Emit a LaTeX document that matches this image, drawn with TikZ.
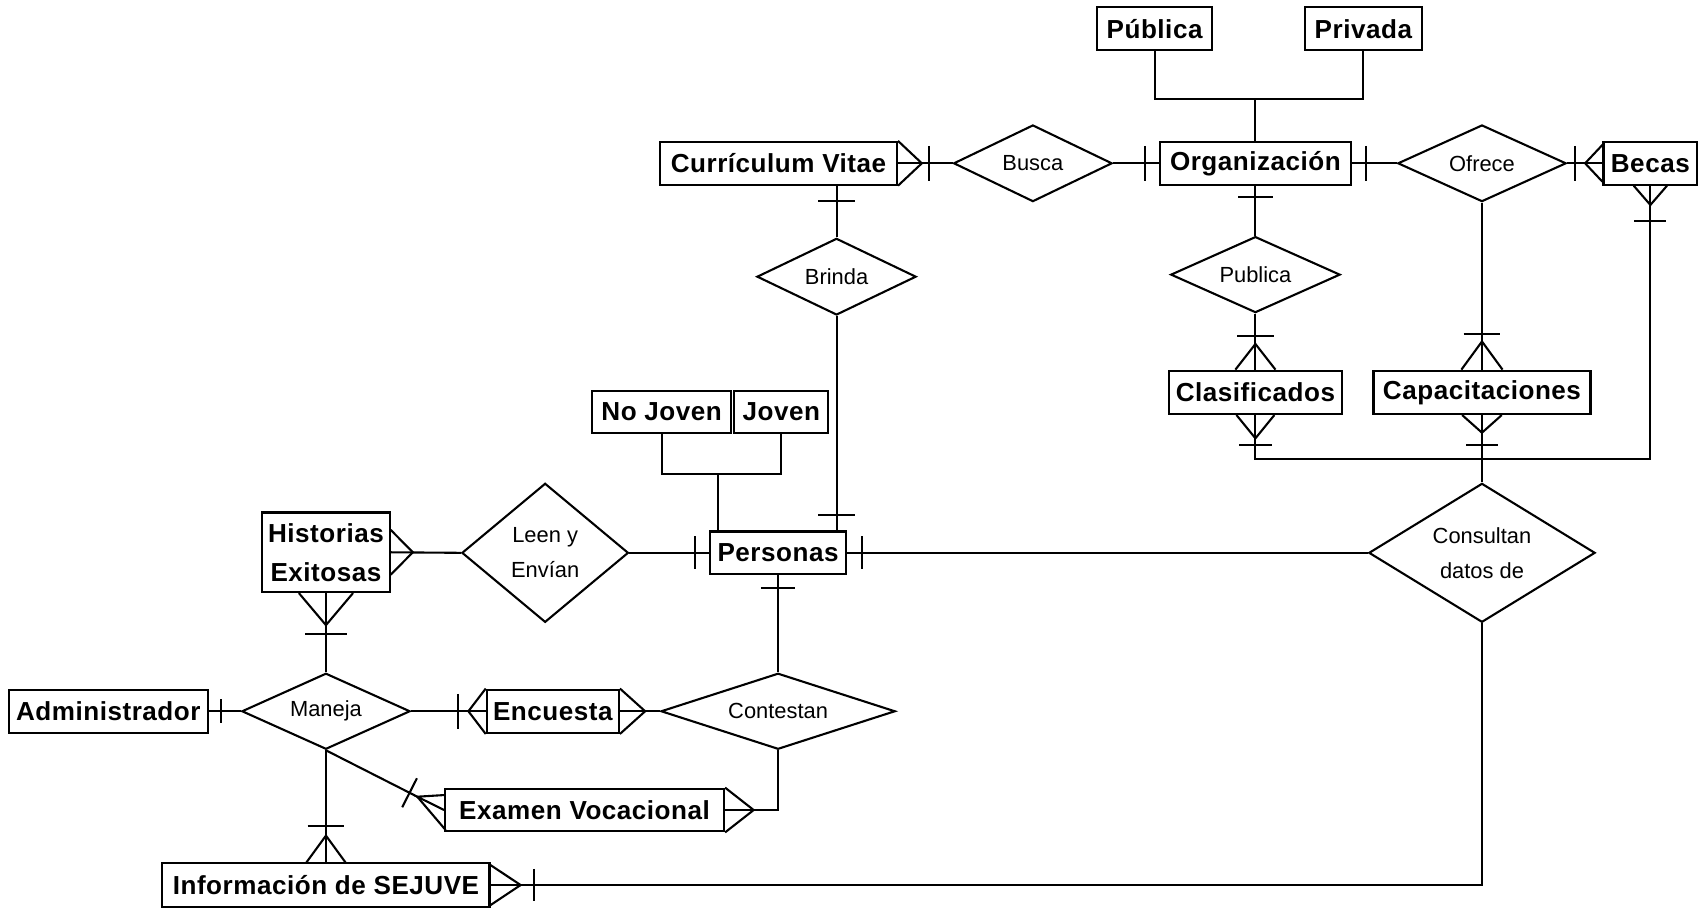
\documentclass[tikz,border=0pt]{standalone}
\usepackage{fontspec}
\setmainfont{Liberation Sans}
\newfontfamily\erfamily[LetterSpace=2]{Liberation Sans}
\usetikzlibrary{shapes.geometric,calc}
\newcommand\entitylabelfont{\erfamily\bfseries\fontsize{13.7}{20.4}\selectfont}
\newcommand\rellabelfont{\rmfamily\fontsize{11.5}{18.5}\selectfont}

\begin{document}
\begin{tikzpicture}[x=0.02cm,y=-0.02cm,line width=1.1pt,
  erent/.style 2 args={draw,rectangle,inner sep=0pt,minimum width=#1*0.02cm,
    minimum height=#2*0.02cm,font=\entitylabelfont,align=center},
  errel/.style 2 args={draw,diamond,inner sep=0pt,aspect=2,minimum width=#1*0.02cm,
    minimum height=#2*0.02cm,font=\rellabelfont,align=center}]

\fill[white] (0,0) rectangle (1568,838);
\useasboundingbox (0,0) rectangle (1568,838);

% ---------- entities and relationships ----------
\node[erent={106.4}{39.4}] (pub) at (1066.2,26.5) {Pública};
\node[erent={108}{39.4}] (priv) at (1259,26.5) {Privada};
\node[erent={218.8}{39.4}] (cv) at (718.9,150.8) {Currículum Vitae};
\node[errel={146.4}{70.8}] (busca) at (953.8,150.8) {Busca};
\node[erent={176.6}{39.4}] (org) at (1159.3,150.8) {Organización};
\node[errel={155.5}{70.8}] (ofrece) at (1368.5,150.8) {Ofrece};
\node[erent={86.6}{39.4}] (becas) at (1524,150.8) {Becas};
\node[errel={147}{70.8}] (brinda) at (772.5,255.5) {Brinda};
\node[errel={156.4}{70.2}] (publica) at (1159.3,253.6) {Publica};
\node[erent={160}{40}] (clas) at (1159.3,362.3) {Clasificados};
\node[erent={200.4}{40}] (capa) at (1368.5,362.3) {Capacitaciones};
\node[erent={128}{39.2}] (nojoven) at (611,380.4) {No Joven};
\node[erent={87}{39.2}] (joven) at (721.5,380.4) {Joven};
\node[erent={125.6}{39.4}] (personas) at (718.5,510.5) {Personas};
\node[erent={117.6}{73.4}] (hist) at (301,510) {Historias\\Exitosas};
\node[errel={153.8}{128.4},aspect=1.4] (leen) at (503.4,510.5) {Leen y\\Envían};
\node[errel={209}{128.3},aspect=1.4] (consultan) at (1368.5,510.5) {Consultan\\datos de};
\node[erent={184}{40}] (admin) at (100,656.8) {Administrador};
\node[errel={155.4}{70.2}] (maneja) at (301,656.8) {Maneja};
\node[erent={122}{40}] (enc) at (510.5,656.8) {Encuesta};
\node[errel={216.3}{70.2}] (contestan) at (718.5,656.8) {Contestan};
\node[erent={257.6}{39.4}] (exam) at (539.8,748) {Examen Vocacional};
\node[erent={302}{40}] (info) at (301,817.3) {Información de SEJUVE};

% ---------- Organización: Pública / Privada ----------
\coordinate (orgj) at (1159.3,91.4);
\draw (pub.south) |- (orgj) -| (priv.south);
\draw (orgj) -- (org.north);

% ---------- Busca ----------
\draw (cv.east) -- (busca.west);
\draw (cv.north east) -- ($(cv.east)+(22,0)$) -- (cv.south east);
\draw ($(cv.east)+(29,-16)$) -- ($(cv.east)+(29,16)$);
\draw (busca.east) -- (org.west);
\draw ($(org.west)+(-13,-16)$) -- ($(org.west)+(-13,16)$);

% ---------- Ofrece ----------
\draw (org.east) -- (ofrece.west);
\draw ($(org.east)+(13,-16)$) -- ($(org.east)+(13,16)$);
\draw (ofrece.east) -- (becas.west);
\draw ($(becas.west)+(0,-17)$) -- ($(becas.west)+(-16,0)$) -- ($(becas.west)+(0,17)$);
\draw ($(becas.west)+(-25.6,-16)$) -- ($(becas.west)+(-25.6,16)$);
\draw (ofrece.south) -- (capa.north);
\draw ($(capa.north)+(-17,-33.3)$) -- ($(capa.north)+(17,-33.3)$);
\draw ($(capa.north)+(-19,0)$) -- ($(capa.north)+(0,-26)$) -- ($(capa.north)+(19,0)$);

% ---------- Brinda ----------
\coordinate (cvb) at (brinda.north |- cv.south);
\draw (cvb) -- (brinda.north);
\draw ($(cvb)+(-17,14.5)$) -- ($(cvb)+(17,14.5)$);
\coordinate (pb) at (brinda.south |- personas.north);
\draw (brinda.south) -- (pb);
\draw ($(pb)+(-17,-14.5)$) -- ($(pb)+(17,-14.5)$);

% ---------- Publica ----------
\draw (org.south) -- (publica.north);
\draw ($(org.south)+(-16,10.5)$) -- ($(org.south)+(16,10.5)$);
\draw (publica.south) -- (clas.north);
\draw ($(clas.north)+(-17,-31.4)$) -- ($(clas.north)+(17,-31.4)$);
\draw ($(clas.north)+(-18.5,0)$) -- ($(clas.north)+(0,-23.7)$) -- ($(clas.north)+(18.5,0)$);

% ---------- Personas: Joven / No Joven ----------
\coordinate (pj) at (662.7,437.7);
\draw (nojoven.south) |- (pj) -| (joven.south);
\draw (pj) -- (pj |- personas.north);

% ---------- Consultan datos de ----------
\coordinate (busy) at (0,423.6);
\draw (clas.south) -- (clas.south |- busy) -- (becas.south |- busy) -- (becas.south);
\draw (capa.south) -- (consultan.north);
\draw ($(clas.south)+(-17.5,0)$) -- ($(clas.south)+(0,21.5)$) -- ($(clas.south)+(17.5,0)$);
\draw ($(clas.south)+(-15,27.7)$) -- ($(clas.south)+(15,27.7)$);
\draw ($(capa.south)+(-18.3,0)$) -- ($(capa.south)+(0,16.3)$) -- ($(capa.south)+(18.3,0)$);
\draw ($(capa.south)+(-14.5,27.7)$) -- ($(capa.south)+(14.5,27.7)$);
\draw ($(becas.south)+(-15.4,0)$) -- ($(becas.south)+(0,17.8)$) -- ($(becas.south)+(15.4,0)$);
\draw ($(becas.south)+(-14.7,32.5)$) -- ($(becas.south)+(14.7,32.5)$);
\draw (personas.east) -- (consultan.west);
\draw ($(personas.east)+(13.5,-15.3)$) -- ($(personas.east)+(13.5,15.3)$);
\draw (info.east) -| (consultan.south);
\draw ($(info.east)+(0,-18.5)$) -- ($(info.east)+(27.8,0)$) -- ($(info.east)+(0,18.5)$);
\draw ($(info.east)+(40,-15)$) -- ($(info.east)+(40,15)$);

% ---------- Leen y Envían ----------
\draw (hist.east) -- (leen.west);
\draw ($(hist.east)+(0,-20.7)$) -- ($(hist.east)+(20.5,0)$) -- ($(hist.east)+(0,20.7)$);
\draw (leen.east) -- (personas.west);
\draw ($(personas.west)+(-12.7,-15.3)$) -- ($(personas.west)+(-12.7,15.3)$);

% ---------- Contestan ----------
\draw (personas.south) -- (contestan.north);
\draw ($(personas.south)+(-16,11.4)$) -- ($(personas.south)+(16,11.4)$);
\draw (enc.east) -- (contestan.west);
\draw (enc.north east) -- ($(enc.east)+(23.3,0)$) -- (enc.south east);
\draw (contestan.south) |- (exam.east);
\draw (exam.north east) -- ($(exam.east)+(26.4,0)$) -- (exam.south east);

% ---------- Maneja ----------
\draw (hist.south) -- (maneja.north);
\draw ($(hist.south)+(-25,0)$) -- ($(hist.south)+(0,29.6)$) -- ($(hist.south)+(25,0)$);
\draw ($(hist.south)+(-19,37.6)$) -- ($(hist.south)+(19,37.6)$);
\draw (admin.east) -- (maneja.west);
\draw ($(admin.east)+(11,-11)$) -- ($(admin.east)+(11,11)$);
\draw (maneja.east) -- (enc.west);
\draw (enc.north west) -- ($(enc.west)+(-16,0)$) -- (enc.south west);
\draw ($(enc.west)+(-25.5,-16)$) -- ($(enc.west)+(-25.5,16)$);
\draw (maneja.south) -- (info.north);
\draw ($(info.north)+(-17,-34)$) -- ($(info.north)+(17,-34)$);
\draw ($(info.north)+(-18,0)$) -- ($(info.north)+(0,-24.7)$) -- ($(info.north)+(18,0)$);
\coordinate (et) at ($(exam.west)+(-24.7,-12.3)$);
\draw (maneja.south) -- (et);
\draw ($(exam.west)+(1.5,-13.9)$) -- (et) -- (exam.west);
\draw (et) -- ($(exam.west)+(1.5,18.5)$);
\coordinate (ebc) at ($(et)!0.16cm!(maneja.south)$);
\draw ($(ebc)!0.3cm!90:(et)$) -- ($(ebc)!0.3cm!-90:(et)$);

\end{tikzpicture}
\end{document}
